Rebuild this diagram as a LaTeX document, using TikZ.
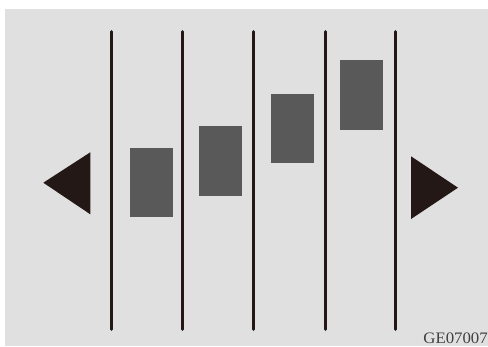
\documentclass[tikz,border=0pt]{standalone}
\usepackage{fontspec}
\setmainfont{Liberation Serif}
\definecolor{bg}{HTML}{E0E0E0}
\definecolor{blk}{HTML}{231815}
\definecolor{box}{HTML}{595959}
\begin{document}
\begin{tikzpicture}[x=1pt,y=-1pt,
  bar/.style={draw=blk,line width=3pt,line cap=round},
  blockbox/.style={fill=box,draw=none,inner sep=0pt,minimum width=43pt,minimum height=69.5pt},
  tri/.style={fill=blk,draw=none}]
\useasboundingbox (0,0) rectangle (488,346);
\fill[white] (0,0) rectangle (488,346);
\fill[bg] (5,9) rectangle (488,346);
% vertical bars
\foreach \x/\n in {111/a,182.7/b,253.7/c,325/d,395.3/e}
  \draw[bar] (\x,31.7) coordinate (\n top) -- (\x,329.3) coordinate (\n bot);
% blocks
\node[blockbox] (b1) at (151.5,182.3) {};
\node[blockbox] (b2) at (220.2,161.2) {};
\node[blockbox] (b3) at (292.3,128.5) {};
\node[blockbox] (b4) at (361.8,95) {};
% triangles
\fill[tri] (43.3,182.7) -- (90.3,152.3) -- (90.3,214.3) -- cycle;
\fill[tri] (458,187.7) -- (411,156.3) -- (411,219) -- cycle;
% label
\node[anchor=base east,inner sep=0pt,font=\fontsize{16pt}{17pt}\selectfont,text=black!75,xscale=1.05] (lbl) at (488,343) {GE07007};
\end{tikzpicture}
\end{document}
